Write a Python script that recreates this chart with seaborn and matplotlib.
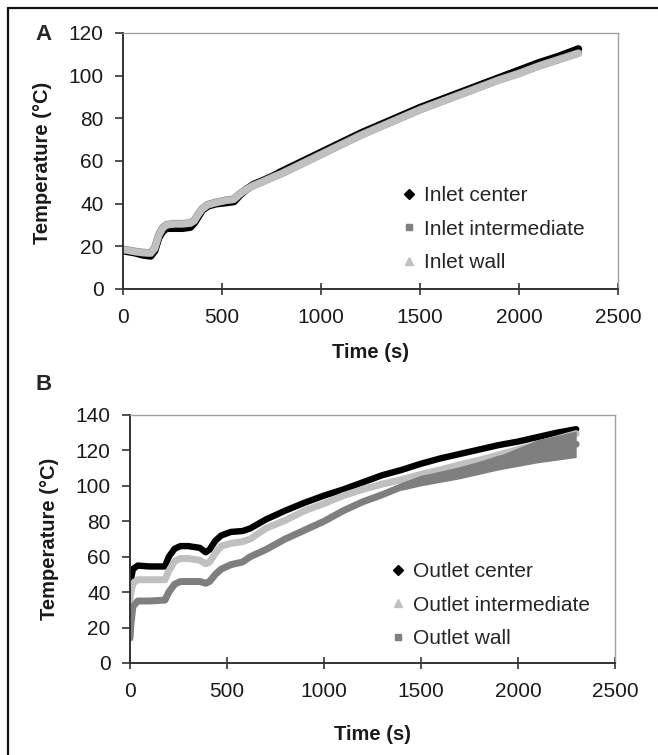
import matplotlib
matplotlib.use("Agg")
import matplotlib.pyplot as plt
from matplotlib.lines import Line2D
import seaborn as sns
import pandas as pd

# ---------------- data ----------------
# Panel A (inlet)
time_a = [0, 30, 60, 100, 140, 160, 180, 200, 220, 260, 300, 340, 360, 380, 400, 430, 470,
          520, 560, 590, 620, 660, 700, 760, 800, 900, 1000, 1100, 1200, 1300, 1400, 1500,
          1600, 1700, 1800, 1900, 2000, 2100, 2200, 2300]
inlet_center = [18, 17.5, 17, 16, 15.5, 18, 24, 27, 28.5, 28.5, 28.5, 29, 31, 34, 37, 39, 40,
                40.5, 41, 44, 46.5, 49, 50.5, 53, 55, 59.5, 64, 68.5, 73, 77, 81, 85,
                88.5, 92, 95.5, 99, 102.5, 106, 109, 112.5]
inlet_intermediate = [18.6, 18.1, 17.6, 17.1, 16.9, 19.2, 25.2, 28.7, 30.1, 30.6, 30.6, 30.9,
                      32.1, 35.1, 37.6, 39.6, 40.6, 41.6, 42.1, 44.6, 46.6, 48.6, 50.1, 52.6,
                      54.1, 58.6, 63.1, 67.6, 72.1, 76.1, 80.1, 84.1, 87.6, 91.1, 94.6, 98.1,
                      101.1, 104.6, 107.6, 110.6]
inlet_wall = [18.5, 18, 17.5, 17, 16.8, 19, 25, 28.5, 30, 30.5, 30.5, 30.8, 32, 35, 37.5, 39.5,
              40.5, 41.5, 42, 44.5, 46.5, 48.5, 50, 52.5, 54, 58.5, 63, 67.5, 72, 76, 80, 84,
              87.5, 91, 94.5, 98, 101, 104.5, 107.5, 110.5]

# Panel B (outlet)
time_b = [0, 5, 15, 40, 100, 180, 200, 230, 260, 300, 360, 390, 410, 440, 470, 520, 580, 620,
          700, 800, 900, 1000, 1100, 1200, 1300, 1400, 1500, 1600, 1700, 1800, 1900, 2000,
          2100, 2200, 2300]
outlet_center = [40, 47, 53, 55, 54.5, 54.5, 60, 64.5, 66, 66, 65, 62.5, 64, 69, 72, 74, 74.5,
                 76, 81, 86, 90.5, 94.5, 98, 102, 106, 109, 112.5, 115.5, 118, 120.5, 123,
                 125, 127.5, 130, 132]
outlet_intermediate = [36, 40, 45, 47, 47, 47, 52, 57.5, 59, 59, 58, 56, 57, 62, 66, 67.5, 68.5,
                       70, 76, 80.5, 86, 90, 94.5, 98, 101, 103.5, 106.5, 109, 112, 114.5,
                       117.5, 120.5, 123.5, 126.5, 129.5]
outlet_wall = [14, 22, 32, 35, 35, 35.5, 40, 44.5, 46, 46, 46, 45, 46, 50, 53, 55.5, 57, 60,
               64, 70, 75, 80, 86, 91, 95, 99.5, 103.5, 106, 108.5, 111.5, 115, 117.5, 119.5,
               121.5, 123.5]
# spread of the outlet wall readings at late times
time_b_late = [1400, 1500, 1700, 1900, 2100, 2300]
outlet_wall_low = [97.5, 100, 104, 109, 113, 116]
outlet_wall_high = [101.5, 106, 110, 117, 126, 131]

labels_a = ["Inlet center", "Inlet intermediate", "Inlet wall"]
labels_b = ["Outlet center", "Outlet intermediate", "Outlet wall"]
x_ticks = [0, 500, 1000, 1500, 2000, 2500]
y_ticks_a = [0, 20, 40, 60, 80, 100, 120]
y_ticks_b = [0, 20, 40, 60, 80, 100, 120, 140]

# ---------------- style ----------------
sns.set_theme(style="white")
plt.rcParams["font.family"] = ["Liberation Sans", "DejaVu Sans"]

BLACK = "#000000"
DARK = "#7f7f7f"
LIGHT = "#c0c0c0"

W, H = 658, 755
fig = plt.figure(figsize=(W / 100, H / 100), dpi=100)


def px_axes(left, top, right, bottom):
    return fig.add_axes([left / W, 1 - bottom / H, (right - left) / W, (bottom - top) / H])


def style_axes(ax, yticks, ymax):
    ax.set_xlim(0, 2500)
    ax.set_ylim(0, ymax)
    ax.set_xticks(x_ticks)
    ax.set_yticks(yticks)
    for s in ["top", "right"]:
        ax.spines[s].set_color("#a0a0a0")
        ax.spines[s].set_linewidth(1.0)
    for s in ["left", "bottom"]:
        ax.spines[s].set_color("#333333")
        ax.spines[s].set_linewidth(1.4)
    ax.tick_params(axis="x", direction="inout", length=9, width=1.2, color="#333333",
                   labelsize=15, pad=9, labelcolor="#1a1a1a", bottom=True)
    ax.tick_params(axis="y", direction="out", length=6, width=1.2, color="#333333",
                   labelsize=15, pad=8, labelcolor="#1a1a1a", left=True)
    ax.set_xlabel("")
    ax.set_ylabel("")
    ax.grid(False)


# ---------------- panel A ----------------
axA = px_axes(123, 33, 618, 289)
dfA = pd.DataFrame({"t": time_a, "c": inlet_center, "i": inlet_intermediate, "w": inlet_wall})
sns.lineplot(data=dfA, x="t", y="c", ax=axA, color=BLACK, linewidth=5.5, estimator=None)
sns.lineplot(data=dfA, x="t", y="i", ax=axA, color=DARK, linewidth=5.5, estimator=None)
sns.lineplot(data=dfA, x="t", y="w", ax=axA, color=LIGHT, linewidth=5.1, estimator=None)
style_axes(axA, y_ticks_a, 120)

handlesA = [Line2D([], [], ls="none", marker="D", ms=5, color=BLACK),
            Line2D([], [], ls="none", marker="s", ms=5, color=DARK),
            Line2D([], [], ls="none", marker="^", ms=6, color=LIGHT)]
axA.legend(handlesA, labels_a, loc="upper left", bbox_to_anchor=(402 / W, 1 - 186 / H),
           bbox_transform=fig.transFigure, frameon=False, fontsize=15, handlelength=0.7,
           handletextpad=0.35, labelspacing=0.70, borderpad=0, borderaxespad=0)

# ---------------- panel B ----------------
axB = px_axes(130, 415, 615, 663)
dfB = pd.DataFrame({"t": time_b, "c": outlet_center, "i": outlet_intermediate, "w": outlet_wall})
dfBl = pd.DataFrame({"t": time_b_late, "lo": outlet_wall_low, "hi": outlet_wall_high})
sns.lineplot(data=dfB, x="t", y="c", ax=axB, color=BLACK, linewidth=4.6, estimator=None)
sns.lineplot(data=dfB, x="t", y="i", ax=axB, color=LIGHT, linewidth=5.0, estimator=None)
sns.lineplot(data=dfB, x="t", y="w", ax=axB, color=DARK, linewidth=5.0, estimator=None)
axB.fill_between(dfBl["t"], dfBl["lo"], dfBl["hi"], color=DARK, linewidth=0, zorder=3)
style_axes(axB, y_ticks_b, 140)

handlesB = [Line2D([], [], ls="none", marker="D", ms=5, color=BLACK),
            Line2D([], [], ls="none", marker="^", ms=6, color=LIGHT),
            Line2D([], [], ls="none", marker="s", ms=5, color=DARK)]
axB.legend(handlesB, labels_b, loc="upper left", bbox_to_anchor=(391 / W, 1 - 562 / H),
           bbox_transform=fig.transFigure, frameon=False, fontsize=15, handlelength=0.7,
           handletextpad=0.35, labelspacing=0.70, borderpad=0, borderaxespad=0)

# ---------------- texts ----------------
bold = dict(fontweight="bold", fontsize=14.5, color="#1a1a1a")
fig.text(43 / W, 1 - 163 / H, "Temperature (°C)", rotation=90, ha="center", va="center", **bold)
fig.text(370 / W, 1 - 352 / H, "Time (s)", ha="center", va="center", **bold)
fig.text(50 / W, 1 - 539 / H, "Temperature (°C)", rotation=90, ha="center", va="center", **bold)
fig.text(372 / W, 1 - 734 / H, "Time (s)", ha="center", va="center", **bold)
fig.text(44 / W, 1 - 35 / H, "A", ha="center", va="center", fontweight="bold", fontsize=16)
fig.text(44 / W, 1 - 384 / H, "B", ha="center", va="center", fontweight="bold", fontsize=16)

# outer frame (left and top edges)
fig.add_artist(Line2D([8 / W, 8 / W], [0, 1 - 8 / H], transform=fig.transFigure,
                      color="#111111", linewidth=1.6))
fig.add_artist(Line2D([8 / W, 1], [1 - 8 / H, 1 - 8 / H], transform=fig.transFigure,
                      color="#111111", linewidth=1.6))

fig.savefig("out.png", dpi=100)
